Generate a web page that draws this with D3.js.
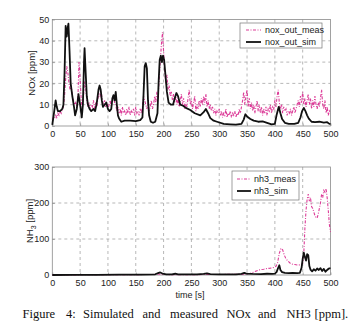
<!DOCTYPE html>
<html>
<head>
<meta charset="utf-8">
<script src="https://cdn.jsdelivr.net/npm/d3@7/dist/d3.min.js"></script>
<style>
  html, body { margin: 0; padding: 0; background: #fff; }
  svg { display: block; }
  .tick text { font-family: "Liberation Sans", Arial, sans-serif; font-size: 9px; fill: #222; }
</style>
</head>
<body>
<svg id="fig" width="352" height="334"></svg>
<script>
// ---- data -------------------------------------------------------------
const xTicks = [0, 50, 100, 150, 200, 250, 300, 350, 400, 450, 500];
const noxTicks = [0, 10, 20, 30, 40, 50];
const nh3Ticks = [0, 100, 200, 300];

// measured NOx, sampled every 2 s from 0 to 500 s
const noxMeasStep = 2;
const noxMeas = [
  3, 4, 3.5, 5, 4, 6, 5, 7, 6, 8, 9,
  14, 22, 28, 25, 20, 17, 19, 14, 12, 10,
  11, 9, 13, 30, 22, 12, 8, 14, 21, 18,
  12, 9, 11, 8, 10, 9, 12, 8, 11, 9,
  13, 15, 14, 16, 12, 10, 12, 9, 11, 8,
  10, 12, 9, 13, 14, 11, 10, 7, 9, 6,
  8, 5, 9, 6, 7, 5, 8, 6, 9, 5,
  7, 6, 8, 5, 9, 6, 7, 5, 8, 6,
  9, 14, 12, 10, 8, 11, 7, 9, 12, 8,
  10, 14, 11, 16, 13, 22, 30, 38, 44, 35,
  26, 20, 24, 17, 19, 14, 16, 12, 15, 11,
  14, 10, 13, 9, 12, 15, 10, 13, 8, 11,
  9, 13, 17, 10, 12, 8, 11, 14, 7, 10,
  8, 12, 9, 13, 10, 14, 11, 15, 9, 12,
  8, 10, 7, 9, 6, 8, 5, 7, 6, 8,
  5, 7, 4, 6, 5, 8, 4, 6, 5, 7,
  4, 6, 5, 7, 4, 6, 5, 8, 6, 9,
  12, 16, 10, 14, 17, 9, 13, 8, 11, 7,
  10, 6, 9, 12, 7, 10, 6, 9, 5, 8,
  6, 9, 5, 8, 7, 10, 6, 9, 8, 12,
  9, 14, 17, 11, 8, 10, 6, 9, 7, 8,
  5, 7, 6, 8, 5, 7, 9, 6, 8, 10,
  12, 9, 14, 11, 16, 10, 13, 9, 12, 15,
  10, 13, 8, 12, 9, 14, 10, 8, 11, 9,
  13, 17, 10, 8, 12, 6, 9, 5, 7, 6
];

// simulated NOx
const noxSimT = [0, 3, 6, 8, 10, 14, 18, 20, 22, 24, 26, 27, 29, 31, 33, 36, 39, 41, 44, 47,
  50, 53, 55, 57, 58, 60, 62, 64, 67, 70, 74, 77, 80, 83, 85, 87, 89, 91, 94, 97,
  100, 103, 106, 108, 110, 112, 114, 116, 118, 120, 124, 130, 140, 150, 158, 162, 164, 166, 168, 170,
  172, 174, 177, 181, 185, 189, 191, 193, 195, 197, 199, 201, 203, 206, 209, 213, 217, 220, 223, 226,
  230, 235, 240, 248, 256, 266, 272, 276, 280, 284, 290, 296, 308, 320, 330, 340, 344, 347, 350, 356,
  362, 370, 378, 386, 394, 400, 403, 407, 410, 413, 418, 425, 435, 442, 446, 449, 452, 455, 458, 461,
  466, 472, 480, 488, 494, 498, 500];
const noxSimV = [0.5, 6, 12, 9, 7, 7, 8, 10, 25, 47, 42, 45, 48, 35, 20, 14, 9, 5, 8, 15,
  10, 4, 10, 30, 36.5, 25, 14, 10, 8, 7, 8, 7, 11, 17, 19, 17, 12, 9, 10, 11,
  8, 7, 8, 13, 14.5, 12, 16, 10, 5, 3.5, 2, 2.5, 2.5, 2.3, 2.8, 4, 15, 28, 29.5, 27,
  12, 5, 2, 1.5, 2, 6, 20, 31, 33, 30, 33, 31, 25, 16, 11, 10, 10, 13, 15.5, 14,
  10, 9.5, 8.5, 7.5, 6, 5, 6.5, 8, 6, 3.7, 2.5, 2, 1, 0.8, 0.6, 1, 3, 5.5, 4.5, 3.3,
  2.5, 2, 2.2, 1.5, 0.8, 1, 5, 9, 6, 3.3, 1.5, 1, 1, 1.5, 4, 7, 8.5, 7, 5, 3.5,
  2, 1.8, 2, 1.6, 1.8, 1, 1];

// measured NH3
const nh3MeasT = [0, 50, 100, 150, 180, 190, 195, 210, 250, 300, 340, 350, 356, 362, 368, 374, 380, 386, 392, 398,
  402, 405, 408, 411, 414, 417, 420, 424, 428, 432, 436, 440, 444, 448, 450, 452, 454, 456, 458, 460,
  462, 464, 466, 468, 470, 472, 474, 476, 478, 480, 482, 484, 486, 488, 490, 492, 494, 496, 498, 500];
const nh3MeasV = [0, 0.5, 0.5, 1, 1.5, 3, 2, 1, 1, 1.5, 2, 3, 5, 8, 12, 15, 16, 18, 19, 21,
  24, 35, 60, 74, 70, 55, 45, 38, 32, 30, 29, 28, 28, 29, 32, 60, 130, 180, 210, 225,
  205, 215, 190, 185, 175, 165, 160, 158, 170, 185, 200, 225, 215, 235, 230, 240, 215, 180, 140, 120];

// simulated NH3
const nh3SimT = [0, 40, 80, 120, 160, 185, 190, 194, 198, 205, 215, 221, 226, 240, 260, 272, 278, 284, 300, 330,
  340, 345, 349, 360, 375, 386, 395, 400, 403, 406, 408, 410, 413, 418, 425, 432, 440, 445, 448, 450,
  452, 454, 456, 458, 460, 462, 464, 467, 470, 473, 476, 479, 482, 485, 488, 491, 494, 497, 500];
const nh3SimV = [0, 0.5, 0.5, 1, 1, 2, 5, 7, 4, 2, 2, 3.5, 2, 2, 2, 3, 4.5, 2.5, 2, 2,
  3, 6, 4, 3, 2.5, 3.5, 3, 4, 8, 20, 27, 14, 8, 6, 5, 6, 5, 6, 20, 45,
  62, 50, 40, 58, 55, 25, 15, 10, 16, 12, 18, 14, 19, 11, 17, 9, 14, 18, 19];

// ---- drawing ---------------------------------------------------------
const svg = d3.select("#fig");
const PINK = "#dc3c98";
const FONT = "'Liberation Sans', Arial, sans-serif";

const x = d3.scaleLinear().domain([0, 500]).range([52.3, 330.5]);

function panel(opts) {
  const y = d3.scaleLinear().domain(opts.yDomain).range(opts.yRange);
  const g = svg.append("g");
  const [x0, x1] = x.range();
  const [yb, yt] = opts.yRange;

  // dashed grid
  g.append("g").selectAll("line.vg").data(xTicks.slice(1, -1)).join("line")
    .attr("x1", d => x(d)).attr("x2", d => x(d))
    .attr("y1", yt).attr("y2", yb)
    .attr("stroke", "#9a9a9a").attr("stroke-width", 0.7).attr("stroke-dasharray", "3,3");
  g.append("g").selectAll("line.hg").data(opts.yTicks.slice(1, -1)).join("line")
    .attr("x1", x0).attr("x2", x1)
    .attr("y1", d => y(d)).attr("y2", d => y(d))
    .attr("stroke", "#9a9a9a").attr("stroke-width", 0.7).attr("stroke-dasharray", "3,3");

  // frame
  g.append("rect").attr("x", x0).attr("y", yt).attr("width", x1 - x0).attr("height", yb - yt)
    .attr("fill", "none").attr("stroke", "#8a8a8a").attr("stroke-width", 0.8);

  // axes (ticks point inward)
  const xa = g.append("g").attr("transform", `translate(0,${yb})`)
    .call(d3.axisBottom(x).tickValues(xTicks).tickSizeInner(-2.5).tickSizeOuter(0).tickPadding(5));
  const ya = g.append("g").attr("transform", `translate(${x0},0)`)
    .call(d3.axisLeft(y).tickValues(opts.yTicks).tickSizeInner(-2.5).tickSizeOuter(0).tickPadding(3));
  [xa, ya].forEach(a => {
    a.select(".domain").remove();
    a.selectAll(".tick line").attr("stroke", "#8a8a8a").attr("stroke-width", 0.7);
  });

  const line = d3.line().x(d => x(d[0])).y(d => y(d[1]));

  // measured (pink dash-dot) under simulated (black)
  g.append("path").datum(opts.meas).attr("d", line)
    .attr("fill", "none").attr("stroke", PINK).attr("stroke-width", 1.1)
    .attr("stroke-dasharray", "3,1.5,1,1.5");
  g.append("path").datum(opts.sim).attr("d", line)
    .attr("fill", "none").attr("stroke", "#111").attr("stroke-width", 1.8)
    .attr("stroke-linejoin", "round");

  // legend
  const L = opts.legend;
  const lg = g.append("g");
  lg.append("rect").attr("x", L.x).attr("y", L.y).attr("width", L.w).attr("height", L.h)
    .attr("fill", "#fff").attr("stroke", "#777").attr("stroke-width", 0.7);
  const rows = [
    { label: opts.names[0], color: PINK, w: 1.1, dash: "3,1.5,1,1.5" },
    { label: opts.names[1], color: "#111", w: 1.8, dash: null }
  ];
  rows.forEach((r, i) => {
    const cy = L.y + L.r0 + i * L.dr;
    lg.append("line").attr("x1", L.x + L.s0).attr("x2", L.x + L.s1).attr("y1", cy).attr("y2", cy)
      .attr("stroke", r.color).attr("stroke-width", r.w).attr("stroke-dasharray", r.dash);
    lg.append("text").attr("x", L.x + L.t0).attr("y", cy).attr("dy", "0.35em")
      .attr("font-family", FONT).attr("font-size", 9).attr("fill", "#222").text(r.label);
  });

  return { g, y };
}

const zip = (t, v) => t.map((d, i) => [d, v[i]]);
const noxMeasPts = noxMeas.map((v, i) => [i * noxMeasStep, v]);

panel({
  yDomain: [0, 50], yRange: [126, 19.5], yTicks: noxTicks,
  meas: noxMeasPts, sim: zip(noxSimT, noxSimV),
  names: ["nox_out_meas", "nox_out_sim"],
  legend: { x: 240, y: 23, w: 82, h: 25, r0: 7, dr: 12, s0: 6, s1: 21, t0: 25 }
});

panel({
  yDomain: [0, 300], yRange: [275, 167], yTicks: nh3Ticks,
  meas: zip(nh3MeasT, nh3MeasV), sim: zip(nh3SimT, nh3SimV),
  names: ["nh3_meas", "nh3_sim"],
  legend: { x: 232, y: 171, w: 67, h: 29, r0: 8, dr: 12, s0: 5, s1: 19, t0: 22 }
});

// axis titles
svg.append("text").attr("transform", "translate(35,73) rotate(-90)")
  .attr("text-anchor", "middle").attr("font-family", FONT).attr("font-size", 9.5).attr("fill", "#222")
  .text("NOx [ppm]");
const nh3Title = svg.append("text").attr("transform", "translate(33,221) rotate(-90)")
  .attr("text-anchor", "middle").attr("font-family", FONT).attr("font-size", 9.5).attr("fill", "#222");
nh3Title.append("tspan").text("NH");
nh3Title.append("tspan").attr("font-size", 7).attr("dy", 2.5).text("3");
nh3Title.append("tspan").attr("dy", -2.5).text(" [ppm]");

svg.append("text").attr("x", 190).attr("y", 298).attr("text-anchor", "middle")
  .attr("font-family", FONT).attr("font-size", 9).attr("fill", "#222").text("time [s]");

// caption, justified across the column
const capWords = ["Figure", "4:", "Simulated", "and", "measured", "NOx", "and", "NH3", "[ppm]."];
const capX = [22.5, 66, 83, 142.5, 170, 226.5, 258, 286.5, 314.5];
svg.append("g").selectAll("text").data(capWords).join("text")
  .attr("x", (d, i) => capX[i]).attr("y", 318)
  .attr("font-family", "'Liberation Serif', 'Times New Roman', serif").attr("font-size", 12.5)
  .attr("fill", "#111").text(d => d);
</script>
</body>
</html>
